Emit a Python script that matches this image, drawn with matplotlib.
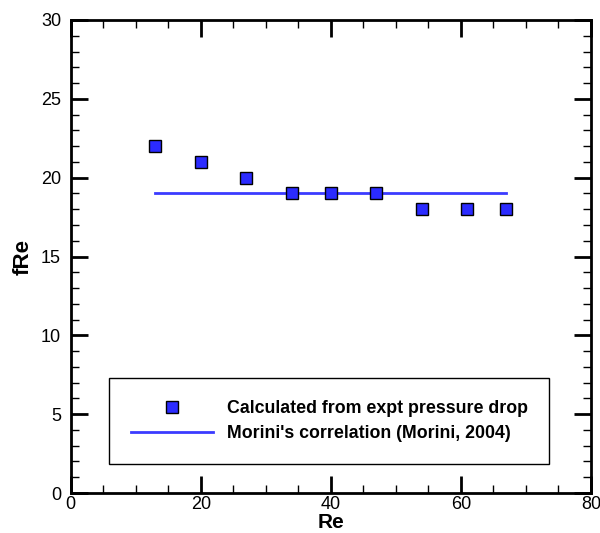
import matplotlib.pyplot as plt
from matplotlib.ticker import MultipleLocator

# Data
re_expt = [13, 20, 27, 34, 40, 47, 54, 61, 67]
fre_expt = [22, 21, 20, 19, 19, 19, 18, 18, 18]
re_corr = [13, 20, 27, 34, 40, 47, 54, 61, 67]
fre_corr = [19, 19, 19, 19, 19, 19, 19, 19, 19]

plt.rcParams['font.family'] = ['Liberation Sans', 'DejaVu Sans']

fig = plt.figure(figsize=(6, 5.33), dpi=100)
ax = fig.add_axes([0.118, 0.075, 0.867, 0.8875])

ax.plot(re_corr, fre_corr, color='#3b3bff', linewidth=2,
        label="Morini's correlation (Morini, 2004)")
ax.plot(re_expt, fre_expt, linestyle='none', marker='s', markersize=9,
        markerfacecolor='#2b2bff', markeredgecolor='black', markeredgewidth=1,
        label='Calculated from expt pressure drop')

ax.set_xlim(0, 80)
ax.set_ylim(0, 30)
ax.xaxis.set_major_locator(MultipleLocator(20))
ax.xaxis.set_minor_locator(MultipleLocator(5))
ax.yaxis.set_major_locator(MultipleLocator(5))
ax.yaxis.set_minor_locator(MultipleLocator(1))

ax.tick_params(which='both', direction='in', top=True, right=True, labelsize=13)
ax.tick_params(which='major', length=12, width=2)
ax.tick_params(axis='x', which='major', pad=2)
ax.tick_params(axis='y', which='major', pad=7)
ax.tick_params(which='minor', length=6, width=1)
for s in ax.spines.values():
    s.set_linewidth(2)

ax.set_xlabel('Re', fontsize=15, fontweight='bold', labelpad=0)
ax.set_ylabel('fRe', fontsize=16, fontweight='bold', labelpad=5)

handles, labels = ax.get_legend_handles_labels()
leg = ax.legend(handles[::-1], labels[::-1], loc='lower left',
                bbox_to_anchor=(5.85 / 80, 1.84 / 30, (73.5 - 5.85) / 80, (7.36 - 1.84) / 30),
                mode='expand', fancybox=False, framealpha=1, edgecolor='black',
                prop={'weight': 'bold', 'size': 12.8}, handlelength=4.6,
                handletextpad=0.8, borderaxespad=0, labelspacing=0.45,
                borderpad=1.25)
leg.get_frame().set_linewidth(1)

fig.savefig('out.png', dpi=100)
